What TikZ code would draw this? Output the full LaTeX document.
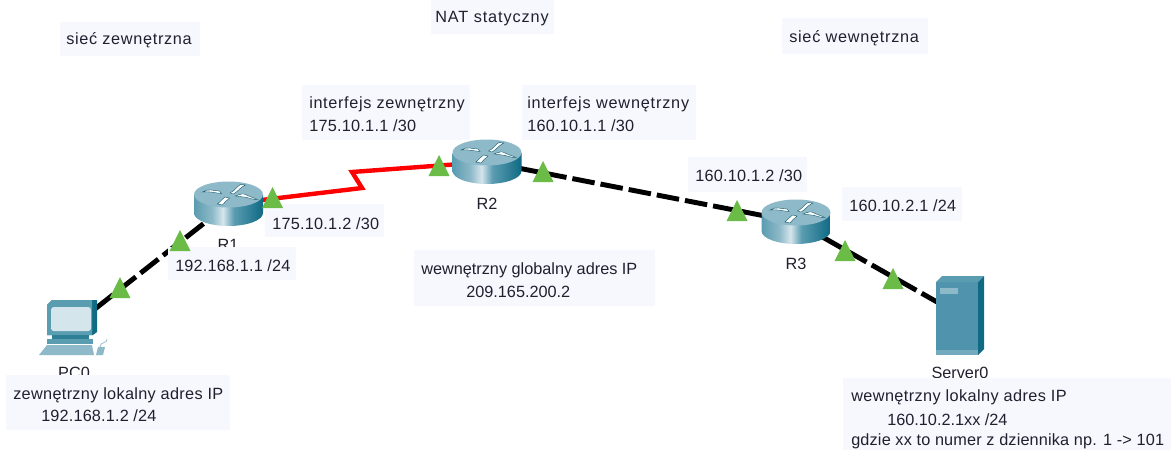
\documentclass[tikz,border=0pt]{standalone}
\usepackage{fontspec}
\setmainfont{Liberation Sans}
\definecolor{boxbg}{HTML}{F7F8FE}
\definecolor{txt}{HTML}{20202E}
\definecolor{grn}{HTML}{6BBB47}
\definecolor{tealA}{HTML}{5A9CB0}
\definecolor{tealB}{HTML}{8DB9C8}
\definecolor{tealC}{HTML}{0F6A84}
\definecolor{tealD}{HTML}{2F7F97}
\definecolor{tealL}{HTML}{D5E5EC}
\definecolor{srv}{HTML}{4F94AC}
\pgfdeclarehorizontalshading{routerbody}{100bp}{
  color(0bp)=(tealA); color(25bp)=(tealA); color(38bp)=(tealB); color(46bp)=(tealL);
  color(54bp)=(tealA); color(66bp)=(tealD); color(75bp)=(tealC); color(100bp)=(tealC)}
\newcommand{\lsp}[1]{\addfontfeature{LetterSpace=#1}}
\tikzset{
  x=0.75pt,y=-0.75pt,
  lbl/.style={anchor=west,inner sep=0pt,yshift=-1.4pt,text=txt,font=\fontsize{12.2pt}{14pt}\selectfont},
  dev/.style={inner sep=0pt,yshift=-0.6pt,text=txt,font=\fontsize{12.2pt}{14pt}\selectfont},
  bgbox/.style={fill=boxbg,draw=none},
  hole/.style={inner sep=0pt,minimum width=1pt,minimum height=1pt},
  wire/.style={line width=3.7pt,black,dash pattern=on 17pt off 4.5pt},
  serial/.style={line width=3.3pt,red,line join=miter},
  mark1/.style={fill=white,draw=tealC!80!black,line width=.3pt},
  pics/tri/.style={code={\fill[grn] (0,0) -- (10.5,21) -- (-10.5,21) -- cycle;}},
  pics/router/.style={code={
    \shade[shading=routerbody]
      (-34.5,-9) -- (-34.5,9) .. controls (-34.5,16.2) and (-19,22) .. (0,22)
      .. controls (19,22) and (34.5,16.2) .. (34.5,9) -- (34.5,-9) -- cycle;
    \fill[tealB] (0,-9.5) ellipse[x radius=34.5,y radius=13];
    \fill[mark1] (-26,-12) .. controls (-20,-16) and (-15,-13) .. (-9,-13) -- (-7,-10.5) .. controls (-14,-11) and (-19,-13) .. (-26,-12) -- cycle;
    \fill[mark1] (1.5,-11) .. controls (6,-13) and (9,-18) .. (12,-19.5) -- (17,-19) .. controls (12,-17) and (9,-12) .. (5,-10) -- cycle;
    \fill[mark1] (7,-8) .. controls (12,-10) and (15,-11) .. (18,-9) .. controls (22,-7) and (26,-6) .. (29,-4.5) .. controls (24,-4) and (19,-7) .. (15,-7) -- cycle;
    \fill[mark1] (-11,0) .. controls (-9,-3) and (-6,-4) .. (-3.5,-7) -- (1,-6) .. controls (-2,-3) and (-4,-2) .. (-6,1) -- cycle;
  }}
}
\begin{document}
\begin{tikzpicture}
\useasboundingbox (0,0) rectangle (1171,450);
\fill[white] (0,0) rectangle (1171,450);
% device anchors
\node[hole] (PC0) at (72,327) {};
\node[hole] (R1) at (228.5,204) {};
\node[hole] (R2) at (487,162) {};
\node[hole] (R3) at (796,222) {};
\node[hole] (S0) at (960,315) {};
\coordinate (za) at (362,188);
\coordinate (zb) at (352,172);
% connectors
\draw[wire] (PC0) -- (R1);
\draw[serial] (R1) -- (za) -- (zb) -- (R2);
\draw[wire] (R2) -- (R3);
\draw[wire] (R3) -- (S0);
% routers
\pic at (R1) {router};
\pic at (R2) {router};
\pic at (R3) {router};
% PC
\begin{scope}[shift={(PC0)}]
  \fill[tealC] (-20,-27) -- (25,-27) -- (25,5) -- (21,8) -- (-25,8) -- (-25,-22) -- cycle;
  \fill[tealA] (-20,-27) -- (20,-27) -- (20,8) -- (-25,8) -- (-25,-22) -- cycle;
  \fill[tealL] (-18,-20) -- (16,-20) .. controls (18,-20) and (19,-19) .. (19,-17) -- (19,1) .. controls (19,3) and (18,4) .. (16,4) -- (-18,4) .. controls (-20,4) and (-21,3) .. (-21,1) -- (-21,-17) .. controls (-21,-19) and (-20,-20) .. cycle;
  \fill[tealD] (-20,8) rectangle (17,13);
  \fill[tealA] (-25,12) -- (21,12) -- (21,17) -- (-25,17) -- cycle;
  \fill[tealB] (-25,18) -- (20,18) -- (22,28) -- (-33,28) -- cycle;
  \fill[tealB] (26,20) -- (33,20) -- (31,28) -- (24,28) -- cycle;
  \draw[tealB,line width=.5pt] (28,20) .. controls (28,14) and (36,17) .. (35,12);
\end{scope}
% server
\begin{scope}[shift={(S0)}]
  \fill[srv] (-24,-33) -- (18,-33) -- (18,40) -- (-24,40) -- cycle;
  \fill[tealA] (-24,-33) -- (-18,-39) -- (24,-39) -- (18,-33) -- cycle;
  \fill[tealC] (18,-33) -- (24,-39) -- (24,34) -- (18,40) -- cycle;
  \fill[tealB] (-20,-27) rectangle (-2,-21);
  \fill[tealB!60!srv] (-24,35) rectangle (18,40);
\end{scope}
% device labels
\node[dev] (lPC) at (74,372) {PC0};
\node[dev] (lR1) at (228,244) {R1};
\node[dev] (lR2) at (487,203) {R2};
\node[dev] (lR3) at (796,263) {R3};
\node[dev] (lS0) at (960,372) {Server0};
% label backgrounds
\fill[bgbox] (60,22) rectangle (200,56);
\fill[bgbox] (431,0) rectangle (554,34);
\fill[bgbox] (782,18) rectangle (928,54);
\fill[bgbox] (302,85) rectangle (470,140);
\fill[bgbox] (522,85) rectangle (696,140);
\fill[bgbox] (265,204) rectangle (384,237);
\fill[bgbox] (168,247) rectangle (296,280);
\fill[bgbox] (688,157) rectangle (807,192);
\fill[bgbox] (842,187) rectangle (962,221);
\fill[bgbox] (414,250) rectangle (655,306);
\fill[bgbox] (6,375) rectangle (230,430);
\fill[bgbox] (843,378) rectangle (1171,450);
% interface markers
\pic at (180,230) {tri};
\pic at (120,277) {tri};
\pic at (272.5,187) {tri};
\pic at (439,155) {tri};
\pic at (543,161) {tri};
\pic at (737,200) {tri};
\pic at (845,240) {tri};
\pic at (893,268) {tri};
% texts
\node[lbl] (t1) at (66,38) {\lsp{4.2}sieć zewnętrzna};
\node[lbl] (t2) at (435,17) {\lsp{5.5}NAT statyczny};
\node[lbl] (t3) at (789,36) {\lsp{4.5}sieć wewnętrzna};
\node[lbl] (t4) at (309,102) {\lsp{4}interfejs zewnętrzny};
\node[lbl] (t5) at (309,124) {\lsp{1.5}175.10.1.1 /30};
\node[lbl] (t6) at (527,102) {\lsp{5}interfejs wewnętrzny};
\node[lbl] (t7) at (527,124) {\lsp{1.5}160.10.1.1 /30};
\node[lbl] (t8) at (272,222) {\lsp{1.5}175.10.1.2 /30};
\node[lbl] (t9) at (175,264) {\lsp{1}192.168.1.1 /24};
\node[lbl] (t10) at (695,174) {\lsp{1.5}160.10.1.2 /30};
\node[lbl] (t11) at (849,204) {\lsp{1.5}160.10.2.1 /24};
\node[lbl] (t12) at (421,268) {wewnętrzny globalny adres IP};
\node[lbl] (t13) at (466,290) {209.165.200.2};
\node[lbl] (t14) at (13,393) {\lsp{2}zewnętrzny lokalny adres IP};
\node[lbl] (t15) at (41,414) {\lsp{1}192.168.1.2 /24};
\node[lbl] (t16) at (851,395) {\lsp{2.5}wewnętrzny lokalny adres IP};
\node[lbl] (t17) at (887,418) {160.10.2.1xx /24};
\node[lbl] (t18) at (851,439) {\lsp{1}gdzie xx to numer z dziennika np. 1 -> 101};
\end{tikzpicture}
\end{document}
